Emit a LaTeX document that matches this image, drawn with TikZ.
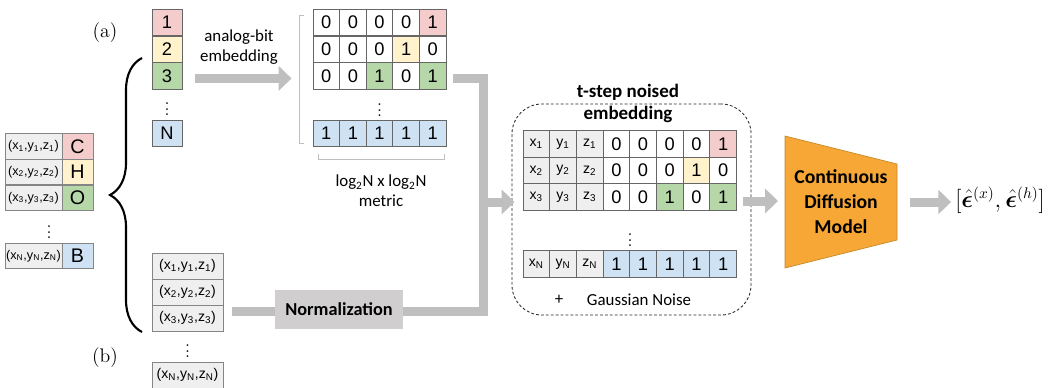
\documentclass[tikz,border=0pt]{standalone}
\usepackage{amsmath}
\usepackage{bm}
\usepackage{fontspec}
\usetikzlibrary{arrows.meta,decorations.pathreplacing,positioning}
\newfontfamily\labelfont{Carlito}
\newfontfamily\cellfont{Liberation Sans}
\definecolor{cellred}{HTML}{F4CCCC}
\definecolor{cellyellow}{HTML}{FFF2CC}
\definecolor{cellgreen}{HTML}{B6D7A8}
\definecolor{cellblue}{HTML}{CFE2F3}
\definecolor{cellgray}{HTML}{EFEFEF}
\definecolor{cellline}{HTML}{666666}
\definecolor{arrowgray}{HTML}{BFBFBF}
\definecolor{normgray}{HTML}{D0CECE}
\definecolor{modelorange}{HTML}{F7A735}
\tikzset{
	bitcell/.style={draw=cellline, line width=0.6pt, inner sep=0pt, minimum width=0.667cm, minimum height=0.667cm, font=\cellfont\fontsize{13}{13}\selectfont},
	xyzcell/.style={bitcell, fill=cellgray, font=\cellfont\fontsize{10}{10}\selectfont},
	atomcell/.style={draw=cellline!80, line width=0.6pt, inner sep=0pt, minimum width=1.425cm, minimum height=0.643cm, fill=cellgray, font=\cellfont\fontsize{9}{9}\selectfont},
	elemcell/.style={atomcell, minimum width=0.775cm, font=\cellfont\fontsize{14}{14}\selectfont},
	idxcell/.style={bitcell, minimum width=0.75cm},
	poscell/.style={atomcell, minimum width=1.775cm, minimum height=0.65cm, font=\cellfont\fontsize{10}{10}\selectfont},
	vdots/.style={inner sep=0pt, font=\fontsize{13}{13}\selectfont},
	fatbar/.style={draw=arrowgray, line width=0.225cm},
	fatarrow/.style={fatbar, -{Triangle[length=0.32cm, width=0.6cm]}},
	bracketline/.style={draw=black!25, line width=0.6pt},
	txt/.style={font=\labelfont\fontsize{12}{14.2}\selectfont, align=center, inner sep=0pt},
	boldtxt/.style={font=\labelfont\bfseries\fontsize{13.5}{15.6}\selectfont, align=center, inner sep=0pt},
	normbox/.style={fill=normgray, minimum width=3.2cm, minimum height=0.975cm, inner sep=0pt, font=\labelfont\bfseries\fontsize{13}{13}\selectfont},
	noisebox/.style={draw=black!85, line width=0.6pt, dash pattern=on 2pt off 1.5pt, rounded corners=0.75cm, minimum width=5.975cm, minimum height=5.275cm},
}

\begin{document}
\begin{tikzpicture}[x=0.025cm, y=-0.025cm]
	%%%%% START %%%%%
	\useasboundingbox (0,0) rectangle (1054,388);
	
	% molecule
	\foreach \n/\y/\e/\f in {1/146.5/C/cellred, 2/172/H/cellyellow, 3/198/O/cellgreen, N/256/B/cellblue} {
		\node[atomcell] (atom-\n) at (33.5,\y) {(x\textsubscript{\n},y\textsubscript{\n},z\textsubscript{\n})};
		\node[elemcell, fill=\f] (elem-\n) at (77.5,\y) {\e};
	}
	\node[vdots] (atom-dots) at (49,228) {$\vdots$};
	
	\coordinate (brace-bot) at (142,332);
	\coordinate (brace-top) at (142,58);
	\draw[decorate, decoration={brace, amplitude=0.8cm}, line width=1.5pt] (brace-bot) -- (brace-top);
	
	\node[font=\fontsize{14}{14}\selectfont] (lbl-a) at (105,33) {(a)};
	\node[font=\fontsize{14}{14}\selectfont] (lbl-b) at (105,358) {(b)};
	
	% (a) atom types
	\foreach \n/\y/\f in {1/22.5/cellred, 2/49.5/cellyellow, 3/76/cellgreen, N/133.5/cellblue}
		\node[idxcell, fill=\f] (idx-\n) at (167,\y) {\n};
	\node[vdots] (idx-dots) at (167,105) {$\vdots$};
	
	\node[txt] (embed-lbl) at (239,47) {analog-bit\\embedding};
	
	\foreach \r/\y/\row in {1/22.5/{0/white,0/white,0/white,0/white,1/cellred},
			2/49.5/{0/white,0/white,0/white,1/cellyellow,0/white},
			3/76/{0/white,0/white,1/cellgreen,0/white,1/cellgreen},
			4/133.5/{1/cellblue,1/cellblue,1/cellblue,1/cellblue,1/cellblue}}
		\foreach \v/\f [count=\c] in \row
			\node[bitcell, fill=\f] (m-\r-\c) at ({313+26.6*(\c-0.5)},\y) {\v};
	\node[vdots] (m-dots) at (379.5,106) {$\vdots$};
	
	\draw[fatarrow] ([xshift=0.325cm, yshift=-0.06cm]idx-3.east) -- ([xshift=-0.525cm, yshift=-0.06cm]m-3-1.west);
	
	\draw[bracketline] (304,15) -- (299,15) -- (299,143) -- (304,143);
	\draw[bracketline] (318,154) -- (318,159) -- (444,159) -- (444,154);
	\node[txt] (metric-lbl) at (381,191) {log\textsubscript{2}N x log\textsubscript{2}N\\metric};
	
	% (b) positions
	\foreach \n/\y in {1/266, 2/292, 3/318, N/375}
		\node[poscell] (pos-\n) at (187.5,\y) {(x\textsubscript{\n},y\textsubscript{\n},z\textsubscript{\n})};
	\node[vdots] (pos-dots) at (187.5,347) {$\vdots$};
	
	\node[normbox] (norm) at (339,309.5) {Normalization};
	\coordinate (pos-out) at (232,311.5);
	\draw[fatbar] (pos-out) -- (norm.west |- pos-out);
	
	% noised embedding
	\node[noisebox] (noised) at (631.5,209.5) {};
	\node[boldtxt] (noised-lbl) at (628,103) {t-step noised\\embedding};
	
	\foreach \r/\y/\s in {1/144/1, 2/170.5/2, 3/197/3, 4/264/N} {
		\node[xyzcell] (nx-\r) at (536.3,\y) {x\textsubscript{\s}};
		\node[xyzcell] (ny-\r) at (563,\y) {y\textsubscript{\s}};
		\node[xyzcell] (nz-\r) at (589.7,\y) {z\textsubscript{\s}};
	}
	\foreach \r/\y/\row in {1/144/{0/white,0/white,0/white,0/white,1/cellred},
			2/170.5/{0/white,0/white,0/white,1/cellyellow,0/white},
			3/197/{0/white,0/white,1/cellgreen,0/white,1/cellgreen},
			4/264/{1/cellblue,1/cellblue,1/cellblue,1/cellblue,1/cellblue}}
		\foreach \v/\f [count=\c] in \row
			\node[bitcell, fill=\f] (n-\r-\c) at ({603+26.7*(\c-0.5)},\y) {\v};
	\node[vdots] (n-dots) at (630,236) {$\vdots$};
	\node[txt] (plus-lbl) at (559,300) {+};
	\node[txt] (noise-lbl) at (639,300) {Gaussian Noise};
	
	% bus into noised box
	\coordinate (mat-out) at (453,78.5);
	\coordinate (bus-top) at (483,78.5);
	\coordinate (bus-mid) at (483,202);
	\coordinate (bus-bot) at (483,311.5);
	\draw[fatbar] (mat-out) -- (bus-top) -- (bus-bot) -- (norm.east |- bus-bot);
	\draw[fatarrow] (bus-mid) -- ([xshift=0.075cm]noised.west |- bus-mid);
	
	% model
	\draw[fill=modelorange, draw=modelorange!80!black, line width=0.5pt] (785,136) -- (897,164) -- (897,240) -- (785,268) -- cycle;
	\node[boldtxt, font=\labelfont\bfseries\fontsize{14}{17.7}\selectfont] (model) at (841,202) {Continuous\\Diffusion\\Model};
	\coordinate (model-in) at (778,201);
	\coordinate (model-out) at (910,202);
	\draw[fatarrow] ([xshift=-0.2cm]noised.east |- model-in) -- (model-in);
	
	\node[inner sep=0pt, font=\fontsize{16}{19}\selectfont] (out) at (1000,200) {$[\hat{\bm{\epsilon}}^{(x)},\hat{\bm{\epsilon}}^{(h)}]$};
	\draw[fatarrow] (model-out) -- ([xshift=-0.1cm]out.west |- model-out);
	%%%%% END %%%%%
\end{tikzpicture}
\end{document}
